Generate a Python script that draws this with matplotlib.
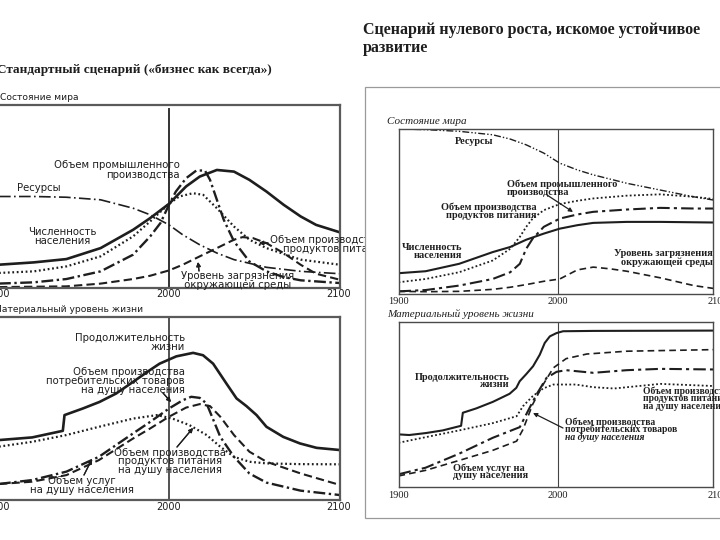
import matplotlib
matplotlib.use("Agg")
import matplotlib.pyplot as plt
from matplotlib.patches import Rectangle

W, H = 720, 540
SANS = ["DejaVu Sans"]
SERIF = ["Liberation Serif", "DejaVu Serif"]
INK = "#1e1e1e"

# ---------------- data: standard scenario, state of the world ----------------
lt_pop_years = [1900, 1921, 1940, 1960, 1979, 1989, 2000, 2010, 2018, 2028, 2038, 2047, 2057, 2067, 2077, 2086, 2100]
lt_pop_vals = [12.7, 14.0, 15.8, 21.8, 31.8, 38.2, 46.0, 55.5, 60.9, 64.5, 63.6, 59.1, 52.7, 45.5, 39.1, 34.5, 30.4]

lt_ind_years = [1900, 1921, 1940, 1960, 1979, 1989, 1995, 2000, 2004, 2010, 2016, 2021, 2024, 2028, 2032, 2038, 2047, 2057, 2067, 2077, 2100]
lt_ind_vals = [2.4, 3.1, 4.9, 9.1, 18.2, 28.2, 35.5, 45.5, 52.7, 60.0, 64.2, 64.2, 59.1, 48.2, 37.3, 25.5, 14.5, 9.1, 6.0, 4.2, 2.7]

lt_food_years = [1900, 1921, 1940, 1960, 1979, 1989, 2000, 2006, 2014, 2020, 2028, 2038, 2047, 2057, 2077, 2100]
lt_food_vals = [8.2, 9.1, 11.8, 17.3, 28.2, 36.4, 46.0, 50.0, 51.8, 50.9, 43.6, 33.6, 26.4, 21.8, 15.5, 12.7]

lt_res_years = [1900, 1921, 1940, 1960, 1979, 1989, 2000, 2008, 2018, 2028, 2038, 2057, 2077, 2100]
lt_res_vals = [50.0, 50.0, 49.6, 48.2, 43.6, 40.0, 34.5, 29.1, 23.6, 19.1, 15.5, 11.3, 9.1, 7.8]

lt_pol_years = [1900, 1940, 1960, 1979, 1989, 2000, 2008, 2018, 2028, 2038, 2043, 2049, 2057, 2067, 2077, 2086, 2100]
lt_pol_vals = [0.5, 0.9, 2.4, 4.9, 6.7, 9.6, 12.7, 17.3, 21.8, 26.4, 27.8, 27.3, 24.5, 19.1, 12.7, 7.8, 4.5]

# ---------------- data: standard scenario, material standard of living ----------------
lb_life_years = [1900, 1920, 1937.9, 1938.9, 1949.6, 1959.4, 1969.1, 1978.9, 1988.7, 1994.5, 2004.3, 2014.1, 2019.9, 2025.8, 2033.6, 2039.5, 2045.3, 2051.2, 2057, 2066.8, 2076.6, 2086.3, 2100]
lb_life_vals = [32.7, 34.2, 37.8, 46.4, 50.0, 53.6, 58.2, 64.5, 70.9, 74.5, 78.5, 80.4, 79.1, 74.5, 63.6, 55.5, 51.3, 46.4, 40.0, 34.5, 30.9, 28.5, 27.3]

lb_food_years = [1900, 1920, 1940, 1959, 1979, 1993, 2002, 2012, 2022, 2030, 2038, 2047, 2057, 2077, 2100]
lb_food_vals = [29.1, 31.8, 35.5, 40.0, 44.5, 46.4, 44.5, 40.9, 35.5, 29.1, 23.6, 20.9, 20.0, 19.6, 19.5]

lb_cons_years = [1900, 1920, 1940, 1959, 1979, 1989, 2000, 2008, 2013, 2018, 2022, 2026, 2030, 2038, 2047, 2057, 2077, 2100]
lb_cons_vals = [8.7, 10.9, 15.5, 23.6, 36.4, 42.7, 50.0, 54.5, 56.4, 55.8, 52.7, 43.6, 34.5, 23.6, 14.5, 9.5, 5.1, 2.7]

lb_serv_years = [1900, 1920, 1940, 1959, 1979, 1989, 2000, 2010, 2018, 2024, 2030, 2038, 2047, 2057, 2077, 2100]
lb_serv_vals = [8.7, 10.0, 13.6, 21.8, 33.6, 39.1, 45.5, 50.5, 52.4, 51.3, 45.5, 35.5, 26.4, 20.9, 14.5, 8.2]

# ---------------- data: zero growth scenario, state of the world ----------------
rt_res_years = [1900, 1917, 1938, 1959, 1970, 1980, 1991, 2001, 2012, 2022, 2043, 2064, 2085, 2100]
rt_res_vals = [100.0, 99.6, 98.6, 96.5, 93.9, 90.4, 85.4, 79.3, 75.2, 72.2, 67.1, 63.0, 58.9, 56.5]

rt_ind_years = [1900, 1917, 1938, 1959, 1970, 1976, 1980, 1984, 1991, 2001, 2012, 2022, 2043, 2064, 2085, 2100]
rt_ind_vals = [7.1, 9.1, 13.2, 20.3, 27.4, 34.6, 40.7, 45.7, 50.8, 54.5, 56.5, 57.9, 59.6, 60.4, 58.9, 57.3]

rt_food_years = [1900, 1917, 1938, 1959, 1970, 1976, 1980, 1984, 1991, 2001, 2012, 2022, 2043, 2064, 2085, 2100]
rt_food_vals = [1.6, 2.4, 5.1, 9.1, 13.2, 18.3, 27.4, 33.5, 40.7, 45.7, 48.2, 49.8, 51.2, 52.2, 51.8, 51.8]

rt_pop_years = [1900, 1917, 1938, 1959, 1970, 1980, 1991, 2001, 2012, 2022, 2043, 2064, 2100]
rt_pop_vals = [12.6, 13.8, 18.3, 25.4, 28.5, 32.9, 36.6, 39.6, 41.7, 43.1, 43.7, 43.7, 43.3]

rt_pol_years = [1900, 1917, 1938, 1959, 1970, 1980, 1991, 2001, 2012, 2022, 2033, 2043, 2064, 2085, 2100]
rt_pol_vals = [1.6, 1.4, 1.6, 2.8, 4.1, 5.7, 7.7, 9.1, 14.6, 16.3, 15.2, 13.8, 9.8, 5.1, 3.0]

# ---------------- data: zero growth scenario, material standard of living ----------------
rb_life_years = [1900, 1906.7, 1917.2, 1927.7, 1939.2, 1940.3, 1948.6, 1959.1, 1969.6, 1973.8, 1975.9, 1980.1, 1984.3, 1988.5, 1991.6, 1994.8, 1999, 2003.1, 2022, 2100]
rb_life_vals = [31.9, 31.5, 32.7, 34.3, 37.1, 45.0, 47.6, 51.6, 56.5, 60.1, 64.1, 68.5, 73.2, 80.2, 87.3, 91.3, 93.3, 94.4, 94.6, 94.8]

rb_serv_years = [1900, 1917, 1938, 1959, 1974, 1978, 1984, 1990.6, 1997, 2005, 2018, 2043, 2100]
rb_serv_vals = [6.7, 10.1, 16.1, 22.2, 27.8, 34.9, 50.0, 62.1, 72.2, 77.8, 80.6, 82.3, 83.3]

rb_cons_years = [1900, 1917, 1938, 1959, 1976, 1980, 1986.4, 1992.7, 1999, 2005, 2022, 2043, 2064, 2100]
rb_cons_vals = [7.7, 11.7, 20.2, 29.8, 36.3, 44.0, 56.0, 66.1, 69.8, 70.8, 69.2, 70.8, 71.6, 71.2]

rb_food_years = [1900, 1917, 1938, 1959, 1974, 1978, 1984, 1990.6, 1997, 2011, 2022, 2035, 2064, 2100]
rb_food_vals = [26.8, 30.2, 34.3, 38.7, 42.9, 49.0, 55.0, 59.7, 62.1, 62.1, 60.5, 59.7, 62.5, 61.1]

tick_years = [1900, 2000, 2100]

# ---------------- helpers ----------------
fig = plt.figure(figsize=(W / 100, H / 100), dpi=100)
fig.patch.set_facecolor("white")


def F(x, y):
    return (x / W, 1 - y / H)


def make_axes(l, t, r, b, xmax, edge, elw, z):
    ax = fig.add_axes([l / W, 1 - b / H, (r - l) / W, (b - t) / H])
    ax.set_xlim(1900, xmax)
    ax.set_ylim(0, 100)
    ax.set_xticks([])
    ax.set_yticks([])
    for s in ax.spines.values():
        s.set_color(edge)
        s.set_linewidth(elw)
    ax.set_zorder(z)
    ax.patch.set_alpha(0)
    return ax


def lines(x, y0, dy, texts, ha="left", size=7.3, family=SANS, z=3, **kw):
    for i, t in enumerate(texts):
        fig.text(x / W, 1 - (y0 + i * dy) / H, t, ha=ha, va="center", fontsize=size,
                 family=family, color=INK, zorder=z, **kw)


def arrow(x0, y0, x1, y1, z=3, lw=0.9):
    fig.add_artist(plt.annotate("", xy=F(x1, y1), xytext=F(x0, y0),
                                xycoords="figure fraction", textcoords="figure fraction",
                                arrowprops=dict(arrowstyle="-|>", color=INK, lw=lw,
                                                mutation_scale=6, shrinkA=0, shrinkB=0)))


DOT_L = (0, (0.8, 1.2))
DASHDOT_L = (0, (5, 1.5, 1, 1.5))
DASH_L = (0, (4, 2))
RES_L = (0, (7, 2, 1, 2))

# ---------------- left: standard scenario ----------------
ax1 = make_axes(-2, 105, 340, 288, 2100, "#5a5a5a", 1.6, 0)
ax1.axvline(2000, color="#333", lw=1.4, ymin=0, ymax=0.98)
ax1.plot(lt_pop_years, lt_pop_vals, color=INK, lw=1.9, solid_capstyle="round")
ax1.plot(lt_ind_years, lt_ind_vals, color=INK, lw=1.7, ls=DASHDOT_L)
ax1.plot(lt_food_years, lt_food_vals, color=INK, lw=1.6, ls=DOT_L)
ax1.plot(lt_res_years, lt_res_vals, color=INK, lw=1.2, ls=RES_L)
ax1.plot(lt_pol_years, lt_pol_vals, color=INK, lw=1.5, ls=DASH_L)

ax2 = make_axes(-2, 317, 340, 500, 2100, "#5a5a5a", 1.6, 0)
ax2.axvline(2000, color="#333", lw=1.2)
ax2.plot(lb_life_years, lb_life_vals, color=INK, lw=1.9)
ax2.plot(lb_food_years, lb_food_vals, color=INK, lw=1.6, ls=DOT_L)
ax2.plot(lb_cons_years, lb_cons_vals, color=INK, lw=1.7, ls=DASHDOT_L)
ax2.plot(lb_serv_years, lb_serv_vals, color=INK, lw=1.5, ls=DASH_L)

for ax, ty in ((ax1, 294), (ax2, 507)):
    for yr, xp in zip(tick_years, (-2, 169, 339)):
        fig.text(xp / W, 1 - ty / H, str(yr), ha="center", va="center", fontsize=7,
                 family=SANS, color=INK, zorder=3)

lines(0, 98, 0, ["Состояние мира"], size=6.6)
lines(-6, 309, 0, ["Материальный уровень жизни"], size=6.6)

lines(180, 165, 9.5, ["Объем промышленного", "производства"], ha="right")
lines(17, 188, 0, ["Ресурсы"])
lines(62, 232, 9.5, ["Численность", "населения"], ha="center")
lines(270, 240, 9.5, ["Объем производства"])
lines(283, 249, 0, ["продуктов питания"])
lines(181, 276, 9, ["Уровень загрязнения", " окружающей среды"])
arrow(268, 243, 259, 243)
arrow(199, 271, 198, 262)

lines(185, 338, 9, ["Продолжительность", "жизни"], ha="right")
lines(185, 372, 9, ["Объем производства", "потребительских товаров", "на душу населения"], ha="right")
lines(170, 453, 8.5, ["Объем производства", "продуктов питания", "на душу населения"], ha="center")
lines(82, 481, 9, ["Объем услуг", "на душу населения"], ha="center")
arrow(84, 475, 92, 459)
arrow(177, 447, 193, 428)
arrow(163, 393, 171, 402)

# ---------------- right frame ----------------
fig.add_artist(Rectangle(F(365, 518), (730 - 365) / W, (518 - 87) / H, transform=fig.transFigure,
                         facecolor="white", edgecolor="#9a9a9a", lw=0.9, zorder=3.5))

# ---------------- right: zero growth scenario ----------------
RX = 2097
ax3 = make_axes(398.5, 129, 713, 294, RX, "#4a4a4a", 1.0, 4)
ax3.axvline(2000, color="#444", lw=0.8)
ax3.plot(rt_res_years, rt_res_vals, color=INK, lw=1.0, ls=(0, (5, 1.5, 1, 1.5, 1, 1.5)))
ax3.plot(rt_ind_years, rt_ind_vals, color=INK, lw=1.3, ls=(0, (1, 1.3)))
ax3.plot(rt_food_years, rt_food_vals, color=INK, lw=1.5, ls=(0, (6, 2, 1.5, 2)))
ax3.plot(rt_pop_years, rt_pop_vals, color=INK, lw=1.5)
ax3.plot(rt_pol_years, rt_pol_vals, color=INK, lw=1.2, ls=(0, (4, 2.5)))

ax4 = make_axes(398.5, 322, 713, 487, RX, "#4a4a4a", 1.0, 4)
ax4.axvline(2000, color="#444", lw=0.8)
ax4.plot(rb_life_years, rb_life_vals, color=INK, lw=1.5)
ax4.plot(rb_serv_years, rb_serv_vals, color=INK, lw=1.2, ls=(0, (4, 2.5)))
ax4.plot(rb_cons_years, rb_cons_vals, color=INK, lw=1.5, ls=(0, (6, 2, 1.5, 2)))
ax4.plot(rb_food_years, rb_food_vals, color=INK, lw=1.3, ls=(0, (1, 1.3)))

for ty in (302, 496):
    for yr, xp in zip(tick_years, (398.5, 558, 718)):
        fig.text(xp / W, 1 - ty / H, str(yr), ha="center", va="center", fontsize=7.5,
                 family=SERIF, color=INK, zorder=5)

lines(387, 122, 0, ["Состояние мира"], size=8, family=SERIF, z=5, style="italic")
lines(387, 314, 0, ["Материальный уровень жизни"], size=8, family=SERIF, z=5, style="italic")

RS = dict(size=7.4, family=SERIF, z=5, weight="bold")
RS2 = dict(size=6.9, family=SERIF, z=5, weight="bold")
lines(455, 141, 0, ["Ресурсы"], **RS)
lines(507, 184, 8, ["Объем промышленного", "производства"], **RS)
lines(537, 207, 8, ["Объем производства", "продуктов питания"], ha="right", **RS)
lines(462, 248, 8, ["Численность", "населения"], ha="right", **RS)
lines(713, 254, 8, ["Уровень загрязнения", "окружающей среды"], ha="right", **RS)
arrow(547, 195, 573, 212, z=5)

lines(510, 377, 7.8, ["Продолжительность", "жизни"], ha="right", **RS)
lines(643, 391, 7.6, ["Объем производства", "продуктов питания", "на душу населения"], **RS2)
lines(565, 422, 7.5, ["Объем производства", "потребительских товаров"], **RS2)
lines(565, 437, 0, ["на душу населения"], style="italic", **RS2)
lines(453, 468, 8, ["Объем услуг на", "душу населения"], **RS)
arrow(563, 428, 533, 413, z=5)

# ---------------- headers ----------------
lines(363, 30, 18, ["Сценарий нулевого роста, искомое устойчивое", "развитие"],
      size=11.5, family=SERIF, z=6, weight="bold")
lines(-3, 70, 0, ["Стандартный сценарий («бизнес как всегда»)"], size=9.5, family=SERIF, z=6,
      weight="bold")

fig.savefig("out.png", dpi=100)
